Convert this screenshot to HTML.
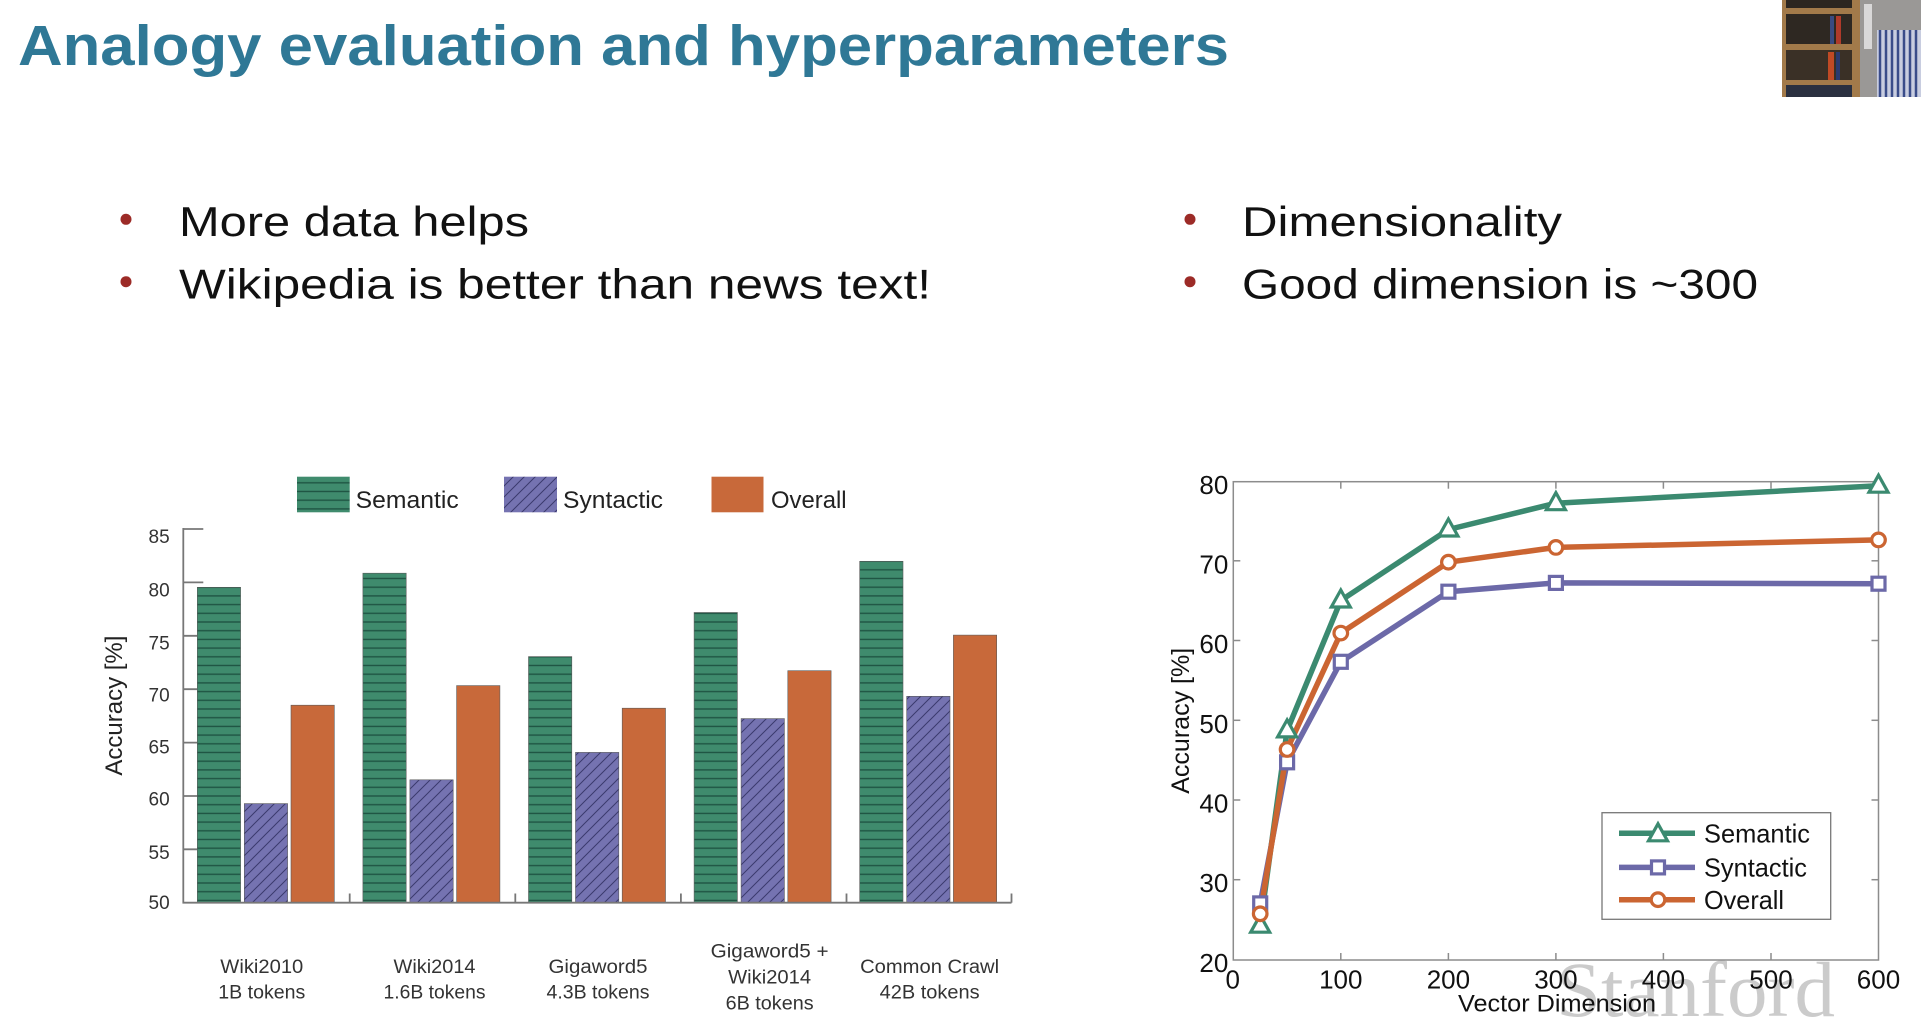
<!DOCTYPE html>
<html><head><meta charset="utf-8">
<style>
html,body{margin:0;padding:0;background:#fff;}
svg{display:block;}
</style></head>
<body>
<svg width="1921" height="1032" viewBox="0 0 1921 1032" xmlns="http://www.w3.org/2000/svg">
<defs>
<pattern id="hstripe" patternUnits="userSpaceOnUse" x="0" y="0" width="10" height="8.7">
<rect width="10" height="8.7" fill="#3f8b6d"/>
<rect y="3.6" width="10" height="1.4" fill="#1f5443"/>
</pattern>
<pattern id="dstripe" patternUnits="userSpaceOnUse" width="11" height="11">
<rect width="11" height="11" fill="#7573b1"/>
<path d="M-2,13 L13,-2 M-2,2 L2,-2 M9,13 L13,9" stroke="#3b3a6e" stroke-width="1"/>
</pattern>
</defs>
<rect width="1921" height="1032" fill="#ffffff"/>

<!-- Title -->
<text x="18" y="65" font-family="Liberation Sans, sans-serif" font-weight="bold" font-size="57" fill="#2f7896" textLength="1211" lengthAdjust="spacingAndGlyphs">Analogy evaluation and hyperparameters</text>

<!-- Webcam thumbnail -->
<g>
<rect x="1782" y="0" width="139" height="97" fill="#4a3d30"/>
<rect x="1782" y="0" width="78" height="97" fill="#a27a4a"/>
<rect x="1786" y="0" width="66" height="8" fill="#2c2620"/>
<rect x="1786" y="14" width="66" height="30" fill="#2e2822"/>
<rect x="1830" y="16" width="4" height="28" fill="#3a4a80"/>
<rect x="1836" y="16" width="5" height="28" fill="#b03a2a"/>
<rect x="1786" y="50" width="66" height="30" fill="#3a3026"/>
<rect x="1828" y="52" width="6" height="28" fill="#c04a25"/>
<rect x="1836" y="52" width="4" height="28" fill="#2a3a70"/>
<rect x="1786" y="85" width="66" height="12" fill="#2a3040"/>
<rect x="1860" y="0" width="61" height="97" fill="#9a9896"/>
<rect x="1877" y="30" width="44" height="67" fill="#c8cde0"/>
<path d="M1880,30 L1880,97 M1886,30 L1886,97 M1892,30 L1892,97 M1898,30 L1898,97 M1904,30 L1904,97 M1910,30 L1910,97 M1916,30 L1916,97" stroke="#3a4c8a" stroke-width="2.5"/>
<rect x="1864" y="4" width="8" height="45" fill="#e8e8e8" opacity="0.8"/>
</g>

<!-- Bullets -->
<circle cx="126" cy="219.3" r="5.5" fill="#9c2b27"/>
<circle cx="126" cy="281.7" r="5.5" fill="#9c2b27"/>
<circle cx="1190" cy="219.3" r="5.5" fill="#9c2b27"/>
<circle cx="1190" cy="281.7" r="5.5" fill="#9c2b27"/>
<g font-family="Liberation Sans, sans-serif" font-size="42" fill="#111">
<text x="179" y="236" textLength="350" lengthAdjust="spacingAndGlyphs">More data helps</text>
<text x="179" y="298.3" textLength="752" lengthAdjust="spacingAndGlyphs">Wikipedia is better than news text!</text>
<text x="1242" y="236" textLength="320" lengthAdjust="spacingAndGlyphs">Dimensionality</text>
<text x="1242" y="298.3" textLength="516" lengthAdjust="spacingAndGlyphs">Good dimension is ~300</text>
</g>

<!-- ================= BAR CHART ================= -->
<rect x="297" y="476.7" width="52.7" height="35.6" fill="url(#hstripe)"/>
<rect x="504" y="476.7" width="53" height="35.6" fill="url(#dstripe)"/>
<rect x="711.5" y="476.7" width="52" height="35.6" fill="#c8693a"/>
<g font-family="Liberation Sans, sans-serif" font-size="24" fill="#222">
<text x="355.7" y="508" textLength="103" lengthAdjust="spacingAndGlyphs">Semantic</text>
<text x="563" y="508" textLength="100" lengthAdjust="spacingAndGlyphs">Syntactic</text>
<text x="771" y="508" textLength="75.6" lengthAdjust="spacingAndGlyphs">Overall</text>
</g>

<g stroke="#777" stroke-width="1.8">
<line x1="183.3" y1="529" x2="203.3" y2="529"/>
<line x1="183.3" y1="582.4" x2="203.3" y2="582.4"/>
<line x1="183.3" y1="635.8" x2="203.3" y2="635.8"/>
<line x1="183.3" y1="689.2" x2="203.3" y2="689.2"/>
<line x1="183.3" y1="742.6" x2="203.3" y2="742.6"/>
<line x1="183.3" y1="796" x2="203.3" y2="796"/>
<line x1="183.3" y1="849.3" x2="203.3" y2="849.3"/>
</g>

<g stroke="#5a5a5a" stroke-width="0.6">
<rect x="197.3" y="587.3" width="43.3" height="315.4" fill="url(#hstripe)"/>
<rect x="244.3" y="803.6" width="43.3" height="99.1" fill="url(#dstripe)"/>
<rect x="291" y="705.2" width="43.3" height="197.5" fill="#c8693a"/>
<rect x="362.9" y="573.2" width="43.3" height="329.5" fill="url(#hstripe)"/>
<rect x="409.9" y="779.8" width="43.3" height="122.9" fill="url(#dstripe)"/>
<rect x="456.6" y="685.6" width="43.3" height="217.1" fill="#c8693a"/>
<rect x="528.5" y="656.6" width="43.3" height="246.1" fill="url(#hstripe)"/>
<rect x="575.5" y="752.4" width="43.3" height="150.3" fill="url(#dstripe)"/>
<rect x="622.2" y="708.2" width="43.3" height="194.5" fill="#c8693a"/>
<rect x="694.1" y="612.5" width="43.3" height="290.2" fill="url(#hstripe)"/>
<rect x="741.1" y="718.6" width="43.3" height="184.1" fill="url(#dstripe)"/>
<rect x="787.8" y="670.7" width="43.3" height="232" fill="#c8693a"/>
<rect x="859.7" y="561.3" width="43.3" height="341.4" fill="url(#hstripe)"/>
<rect x="906.7" y="696.3" width="43.3" height="206.4" fill="url(#dstripe)"/>
<rect x="953.4" y="635.1" width="43.3" height="267.6" fill="#c8693a"/>
</g>

<g stroke="#777" stroke-width="1.8" fill="none">
<line x1="183.3" y1="528" x2="183.3" y2="903.5"/>
<line x1="182.5" y1="902.7" x2="1011.5" y2="902.7"/>
<line x1="349.7" y1="902.7" x2="349.7" y2="893.5"/>
<line x1="515.3" y1="902.7" x2="515.3" y2="893.5"/>
<line x1="680.9" y1="902.7" x2="680.9" y2="893.5"/>
<line x1="846.5" y1="902.7" x2="846.5" y2="893.5"/>
<line x1="1011.5" y1="902.7" x2="1011.5" y2="893.5"/>
</g>

<g font-family="Liberation Sans, sans-serif" font-size="19" fill="#333" text-anchor="end">
<text x="169.7" y="542.8">85</text>
<text x="169.7" y="596.5">80</text>
<text x="169.7" y="649.5">75</text>
<text x="169.7" y="701.5">70</text>
<text x="169.7" y="753.4">65</text>
<text x="169.7" y="805.3">60</text>
<text x="169.7" y="859.1">55</text>
<text x="169.7" y="909.2">50</text>
</g>
<text transform="translate(122,705.6) rotate(-90)" font-family="Liberation Sans, sans-serif" font-size="24" fill="#222" text-anchor="middle" textLength="140" lengthAdjust="spacingAndGlyphs">Accuracy [%]</text>

<g font-family="Liberation Sans, sans-serif" font-size="19" fill="#333" text-anchor="middle">
<text x="261.8" y="973" textLength="83" lengthAdjust="spacingAndGlyphs">Wiki2010</text>
<text x="261.8" y="998.5" textLength="87" lengthAdjust="spacingAndGlyphs">1B tokens</text>
<text x="434.5" y="973" textLength="82" lengthAdjust="spacingAndGlyphs">Wiki2014</text>
<text x="434.5" y="998.5" textLength="102" lengthAdjust="spacingAndGlyphs">1.6B tokens</text>
<text x="598" y="973" textLength="99" lengthAdjust="spacingAndGlyphs">Gigaword5</text>
<text x="598" y="998.5" textLength="103" lengthAdjust="spacingAndGlyphs">4.3B tokens</text>
<text x="769.6" y="957.5" textLength="118" lengthAdjust="spacingAndGlyphs">Gigaword5 +</text>
<text x="769.6" y="983.5" textLength="83" lengthAdjust="spacingAndGlyphs">Wiki2014</text>
<text x="769.6" y="1009.5" textLength="88" lengthAdjust="spacingAndGlyphs">6B tokens</text>
<text x="929.6" y="973" textLength="139" lengthAdjust="spacingAndGlyphs">Common Crawl</text>
<text x="929.6" y="998.5" textLength="100" lengthAdjust="spacingAndGlyphs">42B tokens</text>
</g>

<!-- ================= LINE CHART ================= -->
<text x="1556" y="1016" font-family="Liberation Serif, serif" font-size="78" fill="#cbcbcb" textLength="279" lengthAdjust="spacingAndGlyphs">Stanford</text>

<rect x="1233.3" y="481.7" width="645.2" height="478.3" fill="none" stroke="#8c8c8c" stroke-width="1.5"/>
<g stroke="#8c8c8c" stroke-width="1.5">
<line x1="1340.8" y1="960" x2="1340.8" y2="953"/><line x1="1340.8" y1="481.7" x2="1340.8" y2="488.7"/>
<line x1="1448.4" y1="960" x2="1448.4" y2="953"/><line x1="1448.4" y1="481.7" x2="1448.4" y2="488.7"/>
<line x1="1555.9" y1="960" x2="1555.9" y2="953"/><line x1="1555.9" y1="481.7" x2="1555.9" y2="488.7"/>
<line x1="1663.4" y1="960" x2="1663.4" y2="953"/><line x1="1663.4" y1="481.7" x2="1663.4" y2="488.7"/>
<line x1="1771" y1="960" x2="1771" y2="953"/><line x1="1771" y1="481.7" x2="1771" y2="488.7"/>
<line x1="1233.3" y1="560.8" x2="1240.3" y2="560.8"/><line x1="1878.5" y1="560.8" x2="1871.5" y2="560.8"/>
<line x1="1233.3" y1="640.5" x2="1240.3" y2="640.5"/><line x1="1878.5" y1="640.5" x2="1871.5" y2="640.5"/>
<line x1="1233.3" y1="720.3" x2="1240.3" y2="720.3"/><line x1="1878.5" y1="720.3" x2="1871.5" y2="720.3"/>
<line x1="1233.3" y1="800" x2="1240.3" y2="800"/><line x1="1878.5" y1="800" x2="1871.5" y2="800"/>
<line x1="1233.3" y1="879.7" x2="1240.3" y2="879.7"/><line x1="1878.5" y1="879.7" x2="1871.5" y2="879.7"/>
</g>

<g font-family="Liberation Sans, sans-serif" font-size="26" fill="#111">
<g text-anchor="end">
<text x="1228.3" y="494.2">80</text>
<text x="1228.3" y="573.3">70</text>
<text x="1228.3" y="653">60</text>
<text x="1228.3" y="732.8">50</text>
<text x="1228.3" y="812.5">40</text>
<text x="1228.3" y="892.2">30</text>
<text x="1228.3" y="972">20</text>
</g>
<g text-anchor="middle">
<text x="1232.7" y="988.6">0</text>
<text x="1340.8" y="988.6">100</text>
<text x="1448.4" y="988.6">200</text>
<text x="1555.9" y="988.6">300</text>
<text x="1663.4" y="988.6">400</text>
<text x="1771" y="988.6">500</text>
<text x="1878.5" y="988.6">600</text>
</g>
</g>
<text x="1557" y="1011.7" font-family="Liberation Sans, sans-serif" font-size="24.5" fill="#111" text-anchor="middle" textLength="198" lengthAdjust="spacingAndGlyphs">Vector Dimension</text>
<text transform="translate(1189,720.8) rotate(-90)" font-family="Liberation Sans, sans-serif" font-size="25" fill="#111" text-anchor="middle" textLength="146" lengthAdjust="spacingAndGlyphs">Accuracy [%]</text>

<g fill="none" stroke-width="5.5" stroke-linejoin="round" stroke-linecap="round">
<polyline stroke="#3b8a70" points="1260.2,925.7 1287.1,730.4 1340.8,600.5 1448.4,529.5 1555.9,503.2 1878.5,485.7"/>
<polyline stroke="#6c69a8" points="1260.2,903.4 1287.1,762.3 1340.8,661.8 1448.4,591.7 1555.9,582.9 1878.5,583.7"/>
<polyline stroke="#cb6532" points="1260.2,913.8 1287.1,749.5 1340.8,633.1 1448.4,562.2 1555.9,547.4 1878.5,539.9"/>
</g>
<g fill="#fff" stroke-width="3.2">
<g stroke="#3b8a70">
<polygon points="1260.2,915.2 1250.7,932.2 1269.7,932.2"/>
<polygon points="1287.1,719.9 1277.6,736.9 1296.6,736.9"/>
<polygon points="1340.8,590 1331.3,607 1350.3,607"/>
<polygon points="1448.4,519 1438.9,536 1457.9,536"/>
<polygon points="1555.9,492.7 1546.4,509.7 1565.4,509.7"/>
<polygon points="1878.5,475.2 1869,492.2 1888,492.2"/>
</g>
<g stroke="#6c69a8">
<rect x="1253.7" y="896.9" width="13" height="13"/>
<rect x="1280.6" y="755.8" width="13" height="13"/>
<rect x="1334.3" y="655.3" width="13" height="13"/>
<rect x="1441.9" y="585.2" width="13" height="13"/>
<rect x="1549.4" y="576.4" width="13" height="13"/>
<rect x="1872" y="577.2" width="13" height="13"/>
</g>
<g stroke="#cb6532">
<circle cx="1260.2" cy="913.8" r="6.8"/>
<circle cx="1287.1" cy="749.5" r="6.8"/>
<circle cx="1340.8" cy="633.1" r="6.8"/>
<circle cx="1448.4" cy="562.2" r="6.8"/>
<circle cx="1555.9" cy="547.4" r="6.8"/>
<circle cx="1878.5" cy="539.9" r="6.8"/>
</g>
</g>

<rect x="1602" y="812.7" width="228.7" height="106.6" fill="#fff" stroke="#777" stroke-width="1.3"/>
<g stroke-width="5.5" stroke-linecap="butt">
<line x1="1619" y1="833.3" x2="1695" y2="833.3" stroke="#3b8a70"/>
<line x1="1619" y1="867.4" x2="1695" y2="867.4" stroke="#6c69a8"/>
<line x1="1619" y1="899.7" x2="1695" y2="899.7" stroke="#cb6532"/>
</g>
<g fill="#fff" stroke-width="3.2">
<polygon points="1658,823.8 1648.5,840.8 1667.5,840.8" stroke="#3b8a70"/>
<rect x="1651.5" y="860.9" width="13" height="13" stroke="#6c69a8"/>
<circle cx="1658" cy="899.7" r="6.8" stroke="#cb6532"/>
</g>
<g font-family="Liberation Sans, sans-serif" font-size="26" fill="#111">
<text x="1704" y="842.5" textLength="106" lengthAdjust="spacingAndGlyphs">Semantic</text>
<text x="1704" y="876.6" textLength="103" lengthAdjust="spacingAndGlyphs">Syntactic</text>
<text x="1704" y="908.9" textLength="80" lengthAdjust="spacingAndGlyphs">Overall</text>
</g>
</svg>
</body></html>
